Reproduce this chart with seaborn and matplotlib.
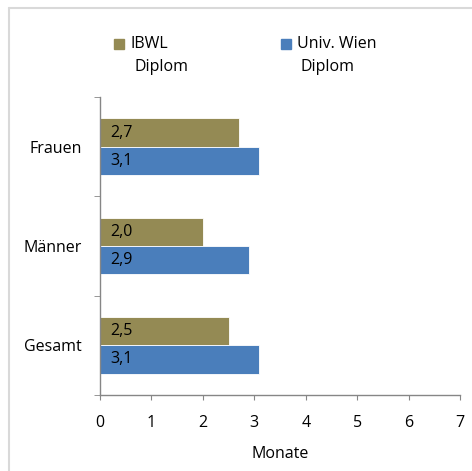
import numpy as np
import pandas as pd
import seaborn as sns
import matplotlib.pyplot as plt
from matplotlib.patches import Rectangle
from matplotlib.lines import Line2D

gruppen = ['Frauen', 'Männer', 'Gesamt']
serien = ['IBWL', 'Univ. Wien']
serien_zeile2 = ['Diplom', 'Diplom']
ibwl = [2.7, 2.0, 2.5]
uni_wien = [3.1, 2.9, 3.1]
farben = ['#948A54', '#4A7EBB']

df = pd.DataFrame({
    'Gruppe': gruppen * 2,
    'Serie': [serien[0]] * 3 + [serien[1]] * 3,
    'Monate': ibwl + uni_wien,
})

sns.set_style('white')
plt.rcParams['font.family'] = ['Open Sans', 'DejaVu Sans']
plt.rcParams['text.color'] = 'black'
plt.rcParams['axes.labelcolor'] = 'black'
plt.rcParams['xtick.color'] = 'black'
plt.rcParams['ytick.color'] = 'black'
fs = 11.5

fig = plt.figure(figsize=(4.72, 4.71), dpi=100)
ax = fig.add_axes([100 / 472, 76 / 471, 360 / 472, 298 / 471])

sns.barplot(data=df, y='Gruppe', x='Monate', hue='Serie', order=gruppen,
            hue_order=serien, palette=farben, orient='h', width=0.57,
            saturation=1, edgecolor='white', linewidth=0.6, ax=ax)

for cont in ax.containers:
    for bar in cont:
        w = bar.get_width()
        ax.text(0.2, bar.get_y() + bar.get_height() / 2,
                f'{w:.1f}'.replace('.', ','), va='center', ha='left',
                fontsize=fs, color='black')

ax.set_xlim(0, 7)
ax.set_ylim(2.5, -0.5)
ax.set_xticks(range(8))
ax.set_yticks(range(3))
ax.set_yticks([-0.5, 0.5, 1.5, 2.5], minor=True)
ax.tick_params(axis='y', which='major', length=0, pad=13, labelsize=fs)
ax.tick_params(axis='y', which='minor', length=4, color='#868686', direction='out', left=True)
ax.tick_params(axis='x', which='major', length=3.6, color='#868686', direction='out',
               bottom=True, pad=10.5, labelsize=fs)
ax.set_xlabel('Monate', fontsize=fs, labelpad=11)
ax.set_ylabel('')
for side in ['top', 'right']:
    ax.spines[side].set_visible(False)
for side in ['left', 'bottom']:
    ax.spines[side].set_color('#868686')
    ax.spines[side].set_linewidth(1)

# Legende wie im Original (Quadrat an der ersten Zeile)
ax.legend_.remove()
W, H = 472, 471
for c, t1, t2, x0 in zip(farben, serien, serien_zeile2, [114, 281]):
    fig.add_artist(Rectangle((x0 / W, 1 - 49 / H), 10 / W, 10 / H, color=c))
    fig.text((x0 + 16) / W, 1 - 44 / H, t1, va='center', ha='left', fontsize=fs)
    fig.text((x0 + 20) / W, 1 - 67 / H, t2, va='center', ha='left', fontsize=fs)

fig.add_artist(Line2D([9 / W, 1], [1 - 8 / H, 1 - 8 / H], color='#D9D9D9', lw=1.5))
fig.add_artist(Line2D([9 / W, 9 / W], [0, 1 - 8 / H], color='#D9D9D9', lw=1.5))

fig.savefig('out.png', dpi=100)
